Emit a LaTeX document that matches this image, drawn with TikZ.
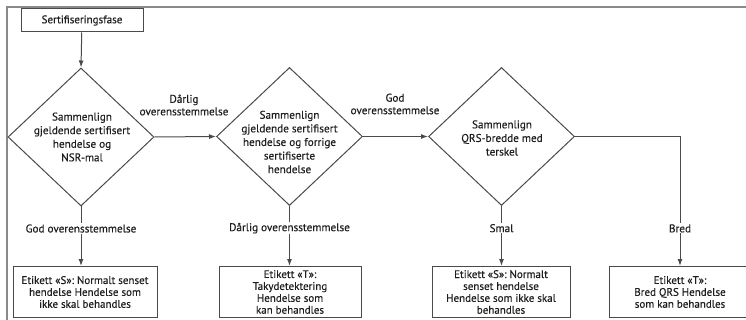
\documentclass[tikz,border=0pt]{standalone}
\usepackage{fontspec}
\setmainfont{PT Sans}
\newfontfamily\mf[FakeBold=0.35]{PT Sans}
\usetikzlibrary{shapes.geometric,arrows.meta}
\definecolor{ln}{HTML}{4A4A4A}
\definecolor{frm}{HTML}{8A8A8A}
\definecolor{txt}{HTML}{1E1E1E}
\tikzset{
  dia/.style={diamond,draw=ln,line width=1pt,minimum width=146pt,minimum height=138pt,inner sep=0pt},
  dtext/.style={align=center,text=txt,font=\mf\fontsize{11.2}{13.6}\selectfont,inner sep=0pt},
  box/.style={draw=ln,line width=1pt,minimum height=51pt,align=center,text=txt,font=\mf\fontsize{11}{11.9}\selectfont,inner sep=1pt},
  arr/.style={draw=ln,line width=1pt,-{Latex[length=7pt,width=5pt]}},
  lnk/.style={draw=ln,line width=1pt},
  lbl/.style={fill=white,text=txt,font=\mf\fontsize{11.2}{12}\selectfont,inner sep=1pt},
  toplbl/.style={text=txt,font=\mf\fontsize{11.2}{12.5}\selectfont,align=center,inner sep=0pt}
}
\begin{document}
\begin{tikzpicture}[x=1pt,y=-1pt]
\useasboundingbox (0,0) rectangle (746,320);
\draw[frm,line width=1.6pt] (7,322) -- (7,7) -- (748,7);
\node[box,minimum width=122pt,minimum height=23pt] (start) at (82,20.5) {Sertifiseringsfase};
\node[dia] (d1) at (81,137) {};
\node[dtext] (t1) at (82,137) {Sammenlign\\gjeldende sertifisert\\hendelse og\\NSR-mal};
\node[dia] (d2) at (289.5,136.5) {};
\node[dtext] (t2) at (289.5,142) {Sammenlign\\gjeldende sertifisert\\hendelse og forrige\\sertifiserte\\hendelse};
\node[dia] (d3) at (501.5,136.5) {};
\node[dtext] (t3) at (502,138) {Sammenlign\\QRS-bredde med\\terskel};
\node[box,minimum width=144pt] (b1) at (85,292) {Etikett «S»: Normalt senset\\hendelse Hendelse som\\ikke skal behandles};
\node[box,minimum width=142pt] (b2) at (290,292) {Etikett «T»:\\Takydetektering\\Hendelse som\\kan behandles};
\node[box,minimum width=138pt] (b3) at (501,292) {Etikett «S»: Normalt\\senset hendelse\\Hendelse som ikke skal\\behandles};
\node[box,minimum width=142pt] (b4) at (680,292) {Etikett «T»:\\Bred QRS Hendelse\\som kan behandles};
\coordinate (c4) at (680,136.5);
\draw[arr] (start) -- (d1.north);
\draw[arr] (d1.east) -- (d2.west);
\node[toplbl] (l12) at (184,105) {Dårlig\\overensstemmelse};
\draw[arr] (d2.east) -- (d3.west);
\node[toplbl] (l23) at (395,104) {God\\overensstemmelse};
\draw[arr] (d1.south) -- node[lbl,pos=0.37] (l1) {God overensstemmelse} (d1.south |- b1.north);
\draw[arr] (d2.south) -- node[lbl,pos=0.37] (l2) {Dårlig overensstemmelse} (d2.south |- b2.north);
\draw[arr] (d3.south) -- node[lbl,pos=0.37] (l3) {Smal} (d3.south |- b3.north);
\draw[lnk] (d3.east) -- (c4);
\draw[arr] (c4) -- node[lbl,pos=0.71] (l4) {Bred} (b4.north);
\end{tikzpicture}
\end{document}
